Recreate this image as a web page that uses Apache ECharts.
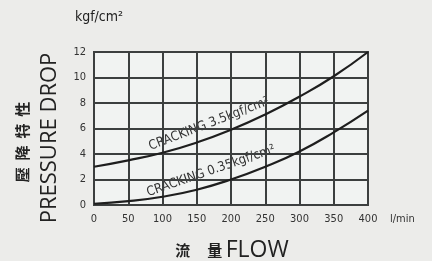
<!DOCTYPE html>
<html>
<head>
<meta charset="utf-8">
<script src="https://cdn.jsdelivr.net/npm/echarts@6/dist/echarts.min.js"></script>
<style>
  html, body { margin: 0; padding: 0; background: #ececea; }
  #chart { width: 432px; height: 261px; }
</style>
</head>
<body>
<div id="chart"></div>
<script>
// 流量 l/min
var flow = [0, 50, 100, 150, 200, 250, 300, 350, 400];
// cracking 3.5 kgf/cm2
var drop35 = [3.0, 3.5, 4.1, 4.9, 5.9, 7.1, 8.5, 10.1, 12.0];
// cracking 0.35 kgf/cm2
var drop035 = [0.1, 0.3, 0.65, 1.2, 2.0, 3.0, 4.2, 5.7, 7.4];

function pairs(xs, ys) {
  var out = [];
  for (var i = 0; i < xs.length; i++) out.push([xs[i], ys[i]]);
  return out;
}

var chart = echarts.init(document.getElementById('chart'));
var gridColor = '#3c3f3f';
var font = '"DejaVu Sans Condensed", "DejaVu Sans", sans-serif';

var option = {
  backgroundColor: '#ececea',
  animation: false,
  grid: {
    left: 94,
    right: 64,
    top: 52,
    bottom: 56,
    show: true,
    backgroundColor: '#f1f3f2',
    borderColor: gridColor,
    borderWidth: 2
  },
  xAxis: {
    type: 'value',
    min: 0,
    max: 400,
    interval: 50,
    name: 'l/min',
    nameLocation: 'end',
    nameGap: 22,
    nameTextStyle: { color: '#333', fontSize: 11, fontFamily: font, verticalAlign: 'top', padding: [9, 0, 0, 0] },
    axisLine: { show: false },
    axisTick: { show: false },
    axisLabel: { color: '#333', fontSize: 11, fontFamily: font, margin: 9 },
    splitLine: { lineStyle: { color: gridColor, width: 2 } }
  },
  yAxis: {
    type: 'value',
    min: 0,
    max: 12,
    interval: 2,
    name: 'kgf/cm²',
    nameLocation: 'end',
    nameGap: 28,
    nameTextStyle: { color: '#222', fontSize: 14, fontFamily: font, align: 'center', padding: [0, 0, 0, 10] },
    axisLine: { show: false },
    axisTick: { show: false },
    axisLabel: { color: '#333', fontSize: 11, fontFamily: font, margin: 8 },
    splitLine: { lineStyle: { color: gridColor, width: 2 } }
  },
  series: [{
    type: 'line',
    smooth: true,
    showSymbol: false,
    lineStyle: { color: '#1e1e1e', width: 2.2 },
    data: pairs(flow, drop35)
  }, {
    type: 'line',
    smooth: true,
    showSymbol: false,
    lineStyle: { color: '#1e1e1e', width: 2.2 },
    data: pairs(flow, drop035)
  }],
  graphic: [{
    type: 'text',
    x: 209, y: 124,
    rotation: 21 * Math.PI / 180,
    style: {
      text: 'CRACKING 3.5kgf/cm²',
      fill: '#333', font: '13px ' + font,
      align: 'center', verticalAlign: 'middle'
    }
  }, {
    type: 'text',
    x: 211, y: 171,
    rotation: 19 * Math.PI / 180,
    style: {
      text: 'CRACKING 0.35kgf/cm²',
      fill: '#333', font: '13px ' + font,
      align: 'center', verticalAlign: 'middle'
    }
  }, {
    type: 'text',
    x: 50, y: 138,
    rotation: Math.PI / 2,
    style: {
      text: 'PRESSURE DROP',
      fill: '#222', font: '22px "Open Sans", sans-serif',
      align: 'center', verticalAlign: 'middle'
    }
  }, {
    type: 'text',
    x: 22, y: 142,
    rotation: Math.PI / 2,
    style: {
      text: '壓  降  特  性',
      fill: '#222', font: 'bold 15px "Noto Sans CJK TC"',
      align: 'center', verticalAlign: 'middle'
    }
  }, {
    type: 'text',
    x: 232, y: 250,
    style: {
      text: '{c|流     量 }{e|FLOW}',
      align: 'center', verticalAlign: 'middle',
      rich: {
        c: { fill: '#222', font: 'bold 15px "Noto Sans CJK TC"' },
        e: { fill: '#222', font: '23px "Open Sans", sans-serif' }
      }
    }
  }]
};
chart.setOption(option);
</script>
</body>
</html>
